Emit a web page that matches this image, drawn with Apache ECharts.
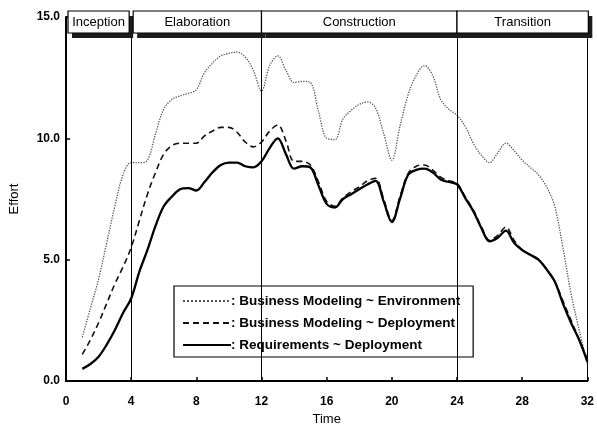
<!DOCTYPE html>
<html><head><meta charset="utf-8">
<script src="https://cdn.jsdelivr.net/npm/echarts@6/dist/echarts.min.js"></script>
<style>html,body{margin:0;padding:0;background:#fff}#c{width:597px;height:431px}</style>
</head><body><div id="c"></div>
<script>
const times = [1,1.5,2,2.5,3,3.5,4,4.5,5,5.5,6,6.5,7,7.5,8,8.5,9,9.5,10,10.5,11,11.5,12,12.5,13,13.5,14,14.5,15,15.5,16,16.5,17,17.5,18,18.5,19,19.5,20,20.5,21,21.5,22,22.5,23,23.5,24,24.5,25,25.5,26,26.5,27,27.5,28,28.5,29,29.5,30,30.5,31,31.5,32];
const envValues = [1.8,3.0,4.2,5.7,7.2,8.5,9.0,9.0,9.1,10.2,11.2,11.6,11.75,11.85,12.0,12.7,13.1,13.4,13.5,13.55,13.35,12.8,11.95,13.0,13.4,12.8,12.3,12.35,12.3,11.1,10.0,9.95,10.8,11.15,11.4,11.5,11.25,10.2,9.1,10.5,11.8,12.6,13.0,12.6,11.6,11.2,10.95,10.5,9.8,9.3,9.0,9.4,9.8,9.5,9.1,8.8,8.5,8.0,7.2,5.5,3.6,2.1,0.7];
const bmDeployValues = [1.1,1.7,2.4,3.2,4.0,4.7,5.5,6.6,7.7,8.6,9.35,9.7,9.8,9.8,9.8,10.1,10.3,10.45,10.45,10.25,9.85,9.65,9.85,10.3,10.55,9.9,9.05,9.05,8.9,8.2,7.4,7.2,7.55,7.8,8.0,8.25,8.35,7.5,6.6,7.6,8.55,8.85,8.9,8.7,8.4,8.25,8.15,7.6,7.05,6.35,5.8,6.0,6.35,5.8,5.4,5.2,5.0,4.6,4.1,3.3,2.5,1.7,0.9];
const reqDeployValues = [0.5,0.7,1.0,1.5,2.1,2.8,3.4,4.5,5.4,6.4,7.2,7.6,7.9,7.95,7.85,8.2,8.6,8.9,9.0,9.0,8.85,8.8,9.05,9.6,10.0,9.35,8.75,8.85,8.8,8.05,7.3,7.15,7.5,7.7,7.9,8.1,8.25,7.4,6.55,7.5,8.5,8.7,8.75,8.6,8.3,8.2,8.1,7.55,7.0,6.3,5.75,5.9,6.2,5.7,5.4,5.2,5.0,4.6,4.1,3.2,2.4,1.7,0.8];
const seriesNames = ['Business Modeling ~ Environment','Business Modeling ~ Deployment','Requirements ~ Deployment'];
const xTickLabels = ['0','4','8','12','16','20','24','28','32'];
const yTickLabels = ['0.0','5.0','10.0','15.0'];
const phaseNames = ['Inception','Elaboration','Construction','Transition'];
const phaseBounds = [0,4,12,24,32];

const FONT = '"Liberation Sans", Arial, sans-serif';
const pair = vals => times.map((t,i)=>[t, vals[i]]);
const chart = echarts.init(document.getElementById('c'), null, {renderer:'canvas'});
const option = {
  animation:false,
  backgroundColor:'#fff',
  textStyle:{fontFamily:FONT},
  grid:{left:62,right:7,top:17,bottom:50},
  xAxis:{type:'value',min:0,max:32,interval:4,
    axisLine:{show:true,lineStyle:{color:'#000',width:2}},
    axisTick:{show:true,inside:true,length:4,lineStyle:{color:'#000',width:1.5}},
    axisLabel:{margin:15,color:'#000',fontWeight:'bold',fontSize:12,fontFamily:FONT,
      formatter:(v)=>xTickLabels[Math.round(v/4)]},
    splitLine:{show:false},
    name:'Time',nameLocation:'middle',nameGap:32,
    nameTextStyle:{color:'#000',fontSize:13,fontFamily:FONT}},
  yAxis:{type:'value',min:0,max:15,interval:5,
    axisLine:{show:true,lineStyle:{color:'#000',width:2}},
    axisTick:{show:true,inside:true,length:4,lineStyle:{color:'#000',width:1.5}},
    axisLabel:{margin:6,color:'#000',fontWeight:'bold',fontSize:12,fontFamily:FONT,
      formatter:(v)=>yTickLabels[Math.round(v/5)]},
    splitLine:{show:false},
    name:'Effort',nameLocation:'middle',nameGap:45,nameRotate:90,
    nameTextStyle:{color:'#000',fontSize:13,fontFamily:FONT}},
  legend:{orient:'vertical',left:174,top:286,
    padding:[8,13,5,8],itemGap:8,itemWidth:48,itemHeight:14,
    borderColor:'#000',borderWidth:1.2,backgroundColor:'#fff',
    itemStyle:{opacity:0},
    formatter:(n)=>': '+n,
    textStyle:{color:'#000',fontWeight:'bold',fontSize:13.5,lineHeight:14,fontFamily:FONT,padding:[0,0,0,-5]},
    data:seriesNames},
  series:[
    {name:seriesNames[0],type:'line',data:pair(envValues),smooth:0.35,symbol:'none',
      lineStyle:{color:'#555',width:1.3,type:'dotted'},itemStyle:{color:'#555'}},
    {name:seriesNames[1],type:'line',data:pair(bmDeployValues),smooth:0.35,symbol:'none',
      lineStyle:{color:'#111',width:1.6,type:[6,4]},itemStyle:{color:'#111'}},
    {name:seriesNames[2],type:'line',data:pair(reqDeployValues),smooth:0.35,symbol:'none',
      lineStyle:{color:'#000',width:2.3,type:'solid'},itemStyle:{color:'#000'},
      markLine:{silent:true,symbol:['none','none'],label:{show:false},
        lineStyle:{color:'#000',width:1,type:'solid'},
        data:phaseBounds.slice(1).map(b=>({xAxis:b}))}}
  ]
};
chart.setOption(option);

const px = v => chart.convertToPixel({xAxisIndex:0}, v);
const gfx = [];
const boxTop = 11, boxH = 22;
const boxX = i => {
  const x0 = px(phaseBounds[i]) + (i<2 ? 2 : 0);
  const x1 = px(phaseBounds[i+1]) - (i===0 ? 2 : 0) + (i===3 ? 1 : 0);
  return [x0, x1];
};
phaseNames.forEach((name,i)=>{
  const [x0,x1] = boxX(i);
  gfx.push({type:'rect',z:100,shape:{x:x0+4,y:boxTop+5,width:x1-x0,height:boxH},style:{fill:'#1c1c1c'}});
});
phaseNames.forEach((name,i)=>{
  const [x0,x1] = boxX(i);
  gfx.push({type:'rect',z:101,shape:{x:x0,y:boxTop,width:x1-x0,height:boxH},style:{fill:'#fff',stroke:'#000',lineWidth:1.2}});
  gfx.push({type:'text',z:102,x:(x0+x1)/2,y:boxTop+boxH/2,style:{text:name,fill:'#000',font:'13px '+FONT,align:'center',verticalAlign:'middle'}});
});
chart.setOption({graphic:gfx});
</script></body></html>
